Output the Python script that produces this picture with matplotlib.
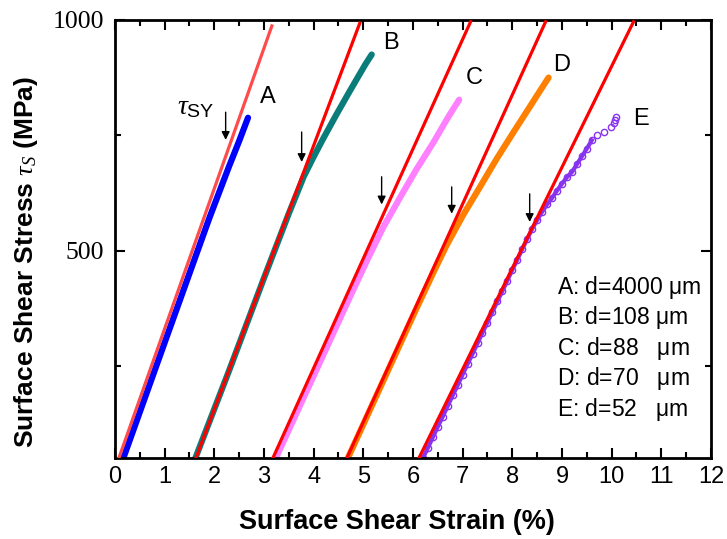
import matplotlib
matplotlib.use('Agg')
import matplotlib.pyplot as plt

# --- data (strain %, stress MPa) ---
a_strain = [0.17, 1.0, 1.9, 2.3, 2.5, 2.68]
a_stress = [50, 300, 570, 683, 737, 788]

b_strain = [1.62, 2.3, 3.0, 3.5, 3.8, 4.0, 4.19, 4.46, 4.73, 4.93, 5.05, 5.17]
b_stress = [50, 240, 440, 580, 660, 703, 742, 795, 846, 883, 905, 925]

c_strain = [3.24, 4.0, 4.7, 5.1, 5.40, 5.74, 6.07, 6.41, 6.68, 6.80, 6.93]
c_stress = [50, 228, 392, 484, 550, 615, 676, 734, 784, 805, 827]

d_strain = [4.69, 5.4, 6.0, 6.4, 6.68, 7.01, 7.35, 7.68, 8.02, 8.36, 8.55, 8.73]
d_stress = [50, 217, 358, 450, 512, 577, 638, 698, 756, 813, 845, 875]

e_strain = [6.2, 6.3, 6.4, 6.5, 6.6, 6.7, 6.8, 6.9, 7.0, 7.1, 7.2, 7.3, 7.4,
            7.5, 7.6, 7.7, 7.8, 7.9, 8.0, 8.1, 8.2, 8.3, 8.4, 8.5, 8.6, 8.7,
            8.8, 8.9, 9.0, 9.1, 9.2, 9.3, 9.4, 9.5, 9.6, 9.71, 9.85, 9.98,
            10.05, 10.07, 10.08]
e_stress = [50, 72, 95, 118, 140, 163, 186, 208, 231, 254, 276, 299, 322,
            344, 367, 390, 412, 435, 458, 480, 503, 525, 547, 566, 584, 600,
            614, 630, 645, 659, 670, 687, 704, 721, 739, 750, 758, 768, 776,
            783, 790]
e_dense_end = 35  # circles overlap into a band up to here

# red elastic fit lines: (strain at bottom, strain at top), stress range
fit_strain = [(0.08, 3.16), (1.63, 4.93), (3.18, 7.16), (4.67, 8.67), (6.12, 10.44)]
fit_stress = [(50, 987), (50, 993), (50, 996), (50, 996), (50, 996)]

# arrows marking tau_SY: x, y start, y end
arrow_x = [2.23, 3.76, 5.37, 6.78, 8.35]
arrow_y0 = [800, 757, 660, 638, 623]
arrow_y1 = [740, 692, 600, 580, 562]

labels = ['A', 'B', 'C', 'D', 'E']
label_x = [3.08, 5.55, 7.24, 9.0, 10.6]
label_y = [834, 950, 875, 903, 785]

legend_lines = ['A: d=4000 $\\mathregular{\\mu}$m', 'B: d=108 $\\mathregular{\\mu}$m',
                'C: d=88   $\\mathregular{\\mu}$m', 'D: d=70   $\\mathregular{\\mu}$m',
                'E: d=52   $\\mathregular{\\mu}$m']

plt.rcParams['font.family'] = 'Liberation Sans'
plt.rcParams['mathtext.fontset'] = 'custom'
plt.rcParams['mathtext.it'] = 'Liberation Serif:italic'
plt.rcParams['mathtext.rm'] = 'Liberation Sans'

fig = plt.figure(figsize=(7.27, 5.39), dpi=100)
ax = fig.add_axes([0.158, 0.150, 0.820, 0.813])

ax.plot(a_strain, a_stress, color='#0000FF', lw=4.5, solid_capstyle='round')
ax.plot(b_strain, b_stress, color='#0A7D7A', lw=4.5, solid_capstyle='round')
ax.plot(c_strain, c_stress, color='#FF80FF', lw=4.5, solid_capstyle='round')
ax.plot(d_strain, d_stress, color='#FF8000', lw=4.5, solid_capstyle='round')
ax.plot(e_strain[:e_dense_end], e_stress[:e_dense_end], color='#8833EE', lw=3)
ax.plot(e_strain, e_stress, color='#8833EE', lw=0, marker='o', ms=4.5,
        mfc='none', mew=1.0)

fit_colors = ['#FF4B4B', 'red', 'red', 'red', 'red']
for (x0, x1), (y0, y1), c in zip(fit_strain, fit_stress, fit_colors):
    ax.plot([x0, x1], [y0, y1], color=c, lw=2.3, zorder=4)

for x, y0, y1 in zip(arrow_x, arrow_y0, arrow_y1):
    ax.annotate('', xy=(x, y1), xytext=(x, y0),
                arrowprops=dict(arrowstyle='-|>', color='black', lw=1.0,
                                mutation_scale=12, shrinkA=0, shrinkB=0))

for t, x, y in zip(labels, label_x, label_y):
    ax.text(x, y, t, fontsize=17, ha='center', va='center')

ax.text(1.62, 810, r'$\tau_{\mathregular{SY}}$', fontsize=20, ha='center', va='center')

ax.text(8.9, 450, '\n'.join(legend_lines), fontsize=16.5, ha='left', va='top',
        linespacing=1.18)

ax.set_xlim(0, 12)
ax.set_ylim(50, 1000)
ax.set_xticks(range(0, 13))
ax.set_xticks([i + 0.5 for i in range(12)], minor=True)
ax.set_yticks([500, 1000])
ax.set_yticks([250, 750], minor=True)
ax.set_yticklabels(['500', '1000'], family='Liberation Serif', fontsize=18.5)
ax.tick_params(axis='x', labelsize=17, pad=6)
ax.tick_params(axis='y', pad=8)
ax.tick_params(which='both', direction='in', top=True, right=True, width=1.5)
ax.tick_params(which='major', length=7)
ax.tick_params(which='minor', length=4)
for s in ax.spines.values():
    s.set_linewidth(2)

ax.set_xlabel('Surface Shear Strain (%)', fontsize=19.5, fontweight='bold', labelpad=14)
ax.set_ylabel(r'Surface Shear Stress $\tau_S$ (MPa)', fontsize=19,
              fontweight='bold', labelpad=8)
ax.xaxis.set_label_coords(0.473, -0.115)
ax.yaxis.set_label_coords(-0.125, 0.447)

fig.savefig('out.png', dpi=100)
